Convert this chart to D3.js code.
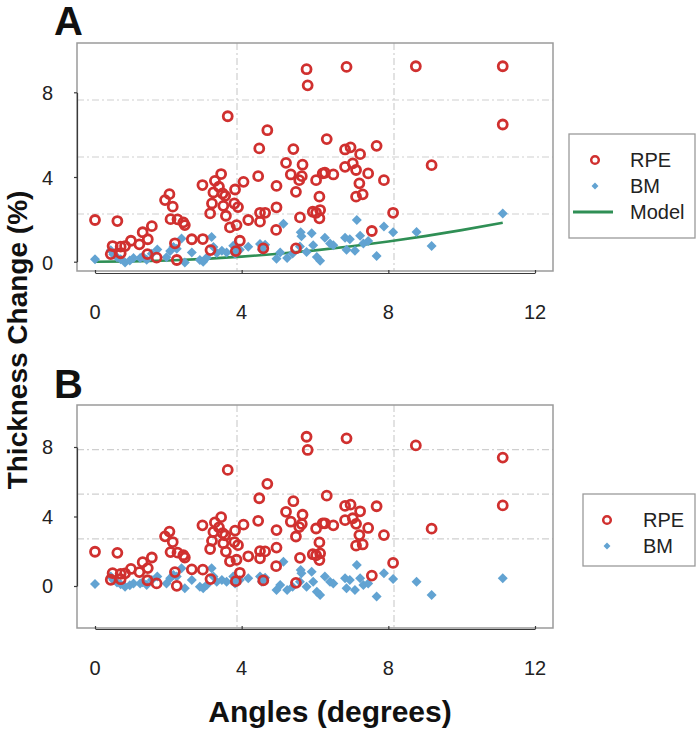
<!DOCTYPE html>
<html>
<head>
<meta charset="utf-8">
<script src="https://cdn.jsdelivr.net/npm/d3@7"></script>
<style>
  html, body { margin: 0; padding: 0; background: #fff; }
  svg { display: block; font-family: "Liberation Sans", Arial, sans-serif; }
</style>
</head>
<body>
<svg id="chart" width="697" height="731"></svg>
<script>
// ---------------- DATA ----------------
const xTicks = [0, 4, 8, 12];
const yTicks = [0, 4, 8];
const seriesNames = ["RPE", "BM", "Model"];

const angleRPE = [0.00,0.43,0.48,0.61,0.70,0.70,0.82,0.98,1.21,1.30,1.43,1.44,1.55,1.68,1.91,2.03,2.06,2.12,2.18,2.23,2.25,2.41,2.45,2.64,2.93,2.94,3.14,3.15,3.19,3.23,3.27,3.38,3.44,3.48,3.50,3.55,3.57,3.62,3.68,3.80,3.82,3.84,3.86,3.90,3.95,4.05,4.18,4.45,4.48,4.50,4.50,4.59,4.64,4.70,4.94,4.95,4.95,5.21,5.34,5.41,5.48,5.48,5.57,5.59,5.64,5.66,5.77,5.80,5.94,6.03,6.03,6.12,6.12,6.14,6.21,6.27,6.32,6.50,6.82,6.82,6.86,6.97,7.03,7.12,7.12,7.21,7.23,7.30,7.45,7.55,7.68,7.88,8.13,8.75,9.18,11.12,11.12];
const rpeA = [1.97,0.36,0.74,1.92,0.71,0.40,0.74,0.99,0.82,1.39,0.36,1.06,1.68,0.19,2.91,3.19,2.01,2.60,0.87,0.08,2.00,1.86,1.73,1.06,3.62,1.07,2.28,0.55,2.75,3.27,3.82,3.54,4.14,3.22,2.64,3.11,2.17,6.87,1.62,2.75,3.41,0.50,1.73,2.58,0.99,3.77,1.97,4.04,5.35,2.31,1.89,0.63,2.31,6.21,1.50,3.58,2.57,4.67,4.12,5.32,3.30,0.63,3.85,2.09,4.04,4.58,9.09,8.33,2.36,2.31,3.85,3.07,2.05,2.44,4.17,4.20,5.79,4.12,4.48,5.30,9.20,5.40,4.64,4.33,3.07,3.70,5.08,3.18,4.17,1.45,5.47,3.85,2.31,9.23,4.56,9.23,6.48];
const rpeB = [1.97,0.36,0.74,1.91,0.70,0.39,0.73,0.98,0.80,1.37,0.33,1.03,1.64,0.15,2.86,3.13,1.95,2.53,0.80,0.01,1.92,1.77,1.64,0.96,3.49,0.94,2.13,0.40,2.60,3.11,3.66,3.37,3.96,3.04,2.46,2.92,1.98,6.68,1.42,2.53,3.19,0.28,1.51,2.35,0.76,3.53,1.71,3.75,5.05,2.01,1.59,0.32,1.99,5.88,1.14,3.22,2.21,4.27,3.70,4.88,2.85,0.18,3.39,1.62,3.57,4.10,8.59,7.83,1.83,1.77,3.31,2.51,1.49,1.88,3.60,3.61,5.20,3.49,3.79,4.61,8.50,4.68,3.90,3.58,2.32,2.93,4.30,2.39,3.34,0.60,4.59,2.93,1.33,8.09,3.30,7.39,4.64];

const angleBM = [0.00,0.43,0.50,0.60,0.70,0.82,0.95,1.05,1.23,1.30,1.41,1.55,1.70,1.95,2.05,2.14,2.23,2.36,2.45,2.64,2.86,2.95,3.05,3.18,3.23,3.32,3.46,3.59,3.77,3.82,3.86,3.95,4.18,4.50,4.55,4.64,4.95,5.05,5.14,5.24,5.39,5.59,5.61,5.63,5.77,5.91,5.95,6.05,6.14,6.27,6.41,6.50,6.82,6.86,6.95,7.09,7.14,7.23,7.32,7.45,7.68,7.88,8.13,8.77,9.18,11.12];
const bmA = [0.11,0.54,0.34,0.21,0.11,-0.04,0.06,0.17,0.17,0.25,0.09,0.38,0.58,0.21,0.50,0.70,0.61,1.10,-0.04,0.44,0.08,0.00,0.20,1.17,0.70,0.41,0.52,0.44,0.75,0.37,0.47,0.57,0.71,0.84,0.56,0.80,0.14,0.44,1.79,0.18,0.39,0.72,1.39,1.20,0.46,1.34,0.78,0.22,0.04,1.13,0.86,0.78,1.13,0.57,1.06,0.52,1.97,1.22,0.86,0.98,0.27,1.66,1.39,1.40,0.74,2.28];
const bmB = [0.11,0.54,0.34,0.20,0.10,-0.05,0.05,0.15,0.15,0.22,0.06,0.34,0.54,0.15,0.44,0.63,0.54,1.02,-0.13,0.34,-0.04,-0.13,0.06,1.02,0.54,0.25,0.34,0.25,0.54,0.15,0.25,0.34,0.45,0.54,0.25,0.48,-0.23,0.06,1.40,-0.23,-0.04,0.25,0.92,0.73,-0.04,0.82,0.25,-0.33,-0.52,0.54,0.25,0.15,0.44,-0.13,0.34,-0.23,1.21,0.44,0.06,0.15,-0.61,0.73,0.40,0.25,-0.52,0.44];

const modelAngle = [0, 1, 2, 3, 4, 5, 6, 7, 8, 9, 10, 11.12];
const modelValue = [0, 0.015, 0.06, 0.134, 0.238, 0.373, 0.536, 0.73, 0.954, 1.207, 1.49, 1.842];

// grid positions in the frame's own coordinates
const gridX = [4, 8];
const gridY = [2.5, 5, 7.5];

// ---------------- STYLE ----------------
const RED = "#d0302f", BLUE = "#62a3d2", GREEN = "#2f8f55";
const GRID = "#cfcfcf", BOX = "#9a9a9a", AXIS = "#3a3a3a";

const svg = d3.select("#chart");
const x = d3.scaleLinear().domain([0, 12]).range([95, 535]);
const xFrame = d3.scaleLinear().domain([0, 12]).range([80, 551]);

function panel(cfg) {
  const g = svg.append("g");
  const y = d3.scaleLinear().domain([0, 8]).range(cfg.yRange);
  const yFrame = d3.scaleLinear().domain(cfg.frameDomain).range([cfg.bottom, cfg.top]);

  // grid
  g.selectAll(".gx").data(gridX).join("line")
    .attr("x1", d => xFrame(d)).attr("x2", d => xFrame(d))
    .attr("y1", cfg.top).attr("y2", cfg.bottom)
    .attr("stroke", GRID).attr("stroke-width", 1.2).attr("stroke-dasharray", "7,3,2,3");
  g.selectAll(".gy").data(gridY).join("line")
    .attr("x1", 77).attr("x2", 553)
    .attr("y1", d => yFrame(d)).attr("y2", d => yFrame(d))
    .attr("stroke", GRID).attr("stroke-width", 1.2).attr("stroke-dasharray", "7,3,2,3");

  // box
  g.append("rect").attr("x", 77).attr("y", cfg.top).attr("width", 553 - 77).attr("height", cfg.bottom - cfg.top)
    .attr("fill", "none").attr("stroke", BOX).attr("stroke-width", 1.5);

  // model
  if (cfg.model) {
    const pts = modelAngle.map((a, i) => [a, modelValue[i]]);
    g.append("path").datum(pts)
      .attr("d", d3.line().x(d => x(d[0])).y(d => y(d[1])).curve(d3.curveMonotoneX))
      .attr("fill", "none").attr("stroke", GREEN).attr("stroke-width", 2.6);
  }

  // BM
  const diamond = d3.symbol().type(d3.symbolSquare).size(50);
  g.selectAll(".bm").data(angleBM.map((a, i) => [a, cfg.bm[i]])).join("path")
    .attr("d", diamond)
    .attr("transform", d => `translate(${x(d[0])},${y(d[1])}) rotate(45)`)
    .attr("fill", BLUE);

  // RPE
  g.selectAll(".rpe").data(angleRPE.map((a, i) => [a, cfg.rpe[i]])).join("circle")
    .attr("cx", d => x(d[0])).attr("cy", d => y(d[1])).attr("r", 4.5)
    .attr("fill", "none").attr("stroke", RED).attr("stroke-width", 2.8);

  // y axis
  const ya = g.append("g").attr("transform", "translate(77,0)")
    .call(d3.axisLeft(y).tickValues(yTicks).tickSize(3).tickSizeOuter(0).tickFormat(""));
  ya.selectAll("path,line").attr("stroke", AXIS).attr("stroke-width", 1.2);
  g.selectAll(".yl").data(yTicks).join("text")
    .attr("x", 53).attr("y", d => y(d) + cfg.yLabelShift)
    .attr("text-anchor", "end").attr("dominant-baseline", "central")
    .attr("font-size", 20).attr("fill", "#222").text(d => d);

  // x axis
  const xa = g.append("g").attr("transform", `translate(0,${cfg.xAxisY})`)
    .call(d3.axisBottom(x).tickValues(xTicks).tickSize(-3).tickSizeOuter(0).tickFormat(""));
  xa.selectAll("path,line").attr("stroke", AXIS).attr("stroke-width", 1.2);
  g.selectAll(".xl").data(xTicks).join("text")
    .attr("x", d => x(d)).attr("y", cfg.xLabelY)
    .attr("text-anchor", "middle").attr("dominant-baseline", "central")
    .attr("font-size", 20).attr("fill", "#222").text(d => d);

  // panel letter
  g.append("text").attr("x", 54).attr("y", cfg.letterY)
    .attr("font-size", 40).attr("font-weight", "bold").attr("fill", "#111").text(cfg.letter);

  // legend
  const L = cfg.legend;
  const lg = g.append("g");
  lg.append("rect").attr("x", L.x).attr("y", L.y).attr("width", L.w).attr("height", L.h)
    .attr("fill", "#fff").attr("stroke", BOX).attr("stroke-width", 1.3);
  const names = cfg.model ? seriesNames : seriesNames.slice(0, 2);
  names.forEach((n, i) => {
    const cy = L.y + L.first + i * 26;
    if (n === "RPE") lg.append("circle").attr("cx", L.mx).attr("cy", cy).attr("r", 3.8)
      .attr("fill", "none").attr("stroke", RED).attr("stroke-width", 2.5);
    if (n === "BM") lg.append("path").attr("d", d3.symbol().type(d3.symbolSquare).size(24))
      .attr("transform", `translate(${L.mx},${cy}) rotate(45)`).attr("fill", BLUE);
    if (n === "Model") lg.append("line").attr("x1", L.mx - 22).attr("x2", L.mx + 18)
      .attr("y1", cy).attr("y2", cy).attr("stroke", GREEN).attr("stroke-width", 3);
    lg.append("text").attr("x", L.tx).attr("y", cy).attr("dominant-baseline", "central")
      .attr("font-size", 20).attr("fill", "#222").text(n);
  });
}

panel({
  letter: "A", letterY: 35, top: 43, bottom: 271, yRange: [261.7, 92.3],
  frameDomain: [0, 10], xAxisY: 273, xLabelY: 312, yLabelShift: 1,
  rpe: rpeA, bm: bmA, model: true,
  legend: { x: 569, y: 134, w: 126, h: 104, first: 26, mx: 595, tx: 630 }
});
panel({
  letter: "B", letterY: 398, top: 405, bottom: 628, yRange: [586, 447],
  frameDomain: [-2.5, 10], xAxisY: 629, xLabelY: 668, yLabelShift: 0,
  rpe: rpeB, bm: bmB, model: false,
  legend: { x: 583, y: 494, w: 112, h: 72, first: 26, mx: 607, tx: 643 }
});

// axis titles
svg.append("text").attr("transform", "translate(27,340) rotate(-90)")
  .attr("text-anchor", "middle").attr("font-size", 28).attr("font-weight", "bold").attr("fill", "#111")
  .text("Thickness Change (%)");
svg.append("text").attr("x", 330).attr("y", 722)
  .attr("text-anchor", "middle").attr("font-size", 30).attr("font-weight", "bold").attr("fill", "#111")
  .text("Angles (degrees)");
</script>
</body>
</html>
